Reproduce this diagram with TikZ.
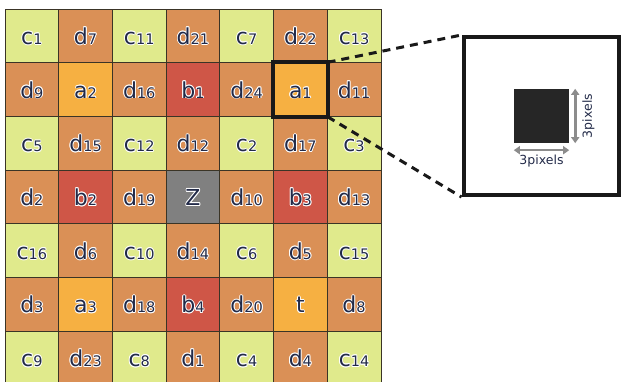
\documentclass[tikz,border=0pt]{standalone}
\usepackage{fontspec}
\setmainfont{DejaVu Sans}
\usepackage[copies]{contour}
\contourlength{0.9pt}
\contournumber{8}
\usetikzlibrary{arrows.meta}
\definecolor{cgreen}{HTML}{E0EA8C}
\definecolor{cbrown}{HTML}{DA9056}
\definecolor{corange}{HTML}{F6B042}
\definecolor{cred}{HTML}{CF5647}
\definecolor{cgray}{HTML}{808080}
\definecolor{ink}{HTML}{222A48}
\definecolor{gridline}{HTML}{3A3426}
\definecolor{arrowgray}{HTML}{8C8C8C}
\newcommand{\lab}[2]{\contour{white}{{\fontsize{22}{22}\selectfont #1}{\fontsize{14.5}{14.5}\selectfont #2}}}
\tikzset{
  cellbase/.style={draw=gridline, line width=0.8pt, minimum size=53.7pt, inner sep=0pt,
    text height=17pt, text depth=0pt, text=ink},
  cellc/.style={cellbase, fill=cgreen},
  celld/.style={cellbase, fill=cbrown},
  cella/.style={cellbase, fill=corange},
  cellb/.style={cellbase, fill=cred},
  cellZ/.style={cellbase, fill=cgray},
  cellt/.style={cellbase, fill=corange},
  dimarrow/.style={draw=arrowgray, line width=2.6pt, {Triangle[width=8pt,length=6pt]}-{Triangle[width=8pt,length=6pt]}},
  dimlabel/.style={text=ink, font=\fontsize{12.5}{12.5}\selectfont, inner sep=1pt},
  zoomline/.style={draw=black!90, line width=3pt, dash pattern=on 8pt off 6pt}
}
\begin{document}
\begin{tikzpicture}[x=1pt,y=-1pt]
\useasboundingbox (0,0) rectangle (621,382);
\begin{scope}
\clip (0,0) rectangle (621,382);
\foreach \row [count=\i from 0] in {
  {c/1,d/7,c/11,d/21,c/7,d/22,c/13},
  {d/9,a/2,d/16,b/1,d/24,a/1,d/11},
  {c/5,d/15,c/12,d/12,c/2,d/17,c/3},
  {d/2,b/2,d/19,Z/{},d/10,b/3,d/13},
  {c/16,d/6,c/10,d/14,c/6,d/5,c/15},
  {d/3,a/3,d/18,b/4,d/20,t/{},d/8},
  {c/9,d/23,c/8,d/1,c/4,d/4,c/14}} {
  \foreach \l/\n [count=\j from 0] in \row {
    \node[cell\l] (n\i\j) at ({5+53.7*\j+26.85},{9+53.7*\i+26.85}) {\lab{\l}{\n}};
  }
}
\end{scope}
% highlighted cell
\draw[black!90, line width=4pt] (n15.north west) rectangle (n15.south east);
% zoom box
\node[draw=black!90, line width=4pt, minimum width=155pt, minimum height=158pt, inner sep=0pt] (zoom) at (541,116) {};
\draw[zoomline] (n15.north east) -- (zoom.north west);
\draw[zoomline] (n15.south east) -- (zoom.south west);
% pixel
\node[fill=black!85, minimum width=55pt, minimum height=54pt, inner sep=0pt] (px) at (541.5,116) {};
\draw[dimarrow] ([xshift=6pt]px.north east) -- ([xshift=6pt]px.south east);
\draw[dimarrow] ([yshift=-7pt]px.south west) -- ([yshift=-7pt]px.south east);
\node[dimlabel, anchor=north] (hl) at ([yshift=-11pt]px.south) {3pixels};
\node[dimlabel, rotate=90, anchor=north] (vl) at ([xshift=12pt]px.east) {3pixels};
\end{tikzpicture}
\end{document}
